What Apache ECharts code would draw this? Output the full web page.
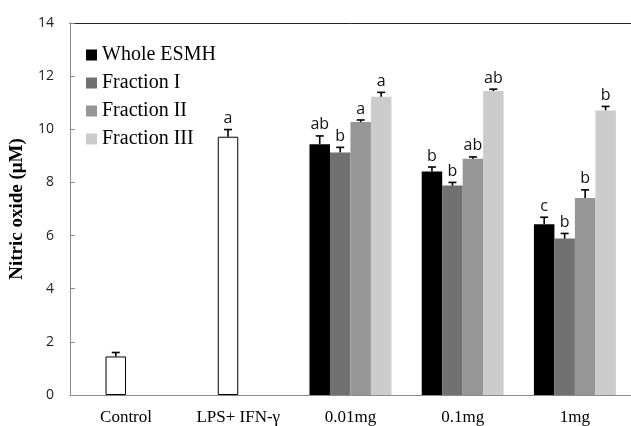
<!DOCTYPE html>
<html><head><meta charset="utf-8">
<script src="https://cdn.jsdelivr.net/npm/echarts@6/dist/echarts.min.js"></script>
<style>html,body{margin:0;padding:0;background:#fff}#c{width:631px;height:426px}</style>
</head><body><div id="c"></div>
<script>
var categories = ['Control', 'LPS+ IFN-\u03b3', '0.01mg', '0.1mg', '1mg'];
var seriesNames = ['Whole ESMH', 'Fraction I', 'Fraction II', 'Fraction III'];
// Control / LPS+IFN-γ (white bars)
var controlValues = [1.45, 9.72];
var controlErr = [0.15, 0.27];
var controlLetters = ['', 'a'];
// Treatment series (0.01mg, 0.1mg, 1mg)
var wholeValues = [9.44, 8.41, 6.43];
var wholeErr = [0.31, 0.17, 0.26];
var wholeLetters = ['ab', 'b', 'c'];
var frac1Values = [9.13, 7.88, 5.89];
var frac1Err = [0.19, 0.12, 0.19];
var frac1Letters = ['b', 'b', 'b'];
var frac2Values = [10.27, 8.89, 7.41];
var frac2Err = [0.08, 0.07, 0.31];
var frac2Letters = ['a', 'ab', 'b'];
var frac3Values = [11.22, 11.44, 10.71];
var frac3Err = [0.17, 0.07, 0.15];
var frac3Letters = ['a', 'ab', 'b'];

var colors = ['#000000', '#717171', '#969696', '#cccccc'];
var vals = [wholeValues, frac1Values, frac2Values, frac3Values];
var errs = [wholeErr, frac1Err, frac2Err, frac3Err];
var lets = [wholeLetters, frac1Letters, frac2Letters, frac3Letters];

var GAP = 0.27;
var series = [];
var errData = [];
var errLetters = [];
for (var s = 0; s < 4; s++) {
  var data = [];
  for (var c = 0; c < 2; c++) {
    if (s === 1) {
      data.push({ value: controlValues[c], itemStyle: { color: '#ffffff', borderColor: '#000000', borderWidth: 1 } });
      errData.push([c, controlValues[c], controlErr[c], s]);
      errLetters.push(controlLetters[c]);
    } else {
      data.push(null);
    }
  }
  for (var k = 0; k < 3; k++) {
    data.push(vals[s][k]);
    errData.push([k + 2, vals[s][k], errs[s][k], s]);
    errLetters.push(lets[s][k]);
  }
  series.push({
    name: seriesNames[s], type: 'bar', data: data,
    itemStyle: { color: colors[s] },
    barGap: '0%', barCategoryGap: (GAP * 100) + '%',
    silent: true, animation: false
  });
}
series.push({
  type: 'custom', silent: true, animation: false, z: 5,
  data: errData,
  renderItem: function (params, api) {
    var ci = api.value(0), v = api.value(1), e = api.value(2), slot = api.value(3);
    var band = api.size([1, 0])[0];
    var bw = band * (1 - GAP) / 4;
    var base = api.coord([ci, v]);
    var top = api.coord([ci, v + e]);
    var x = base[0] + (slot - 1.5) * bw;
    var cap = 4;
    var children = [
      { type: 'line', shape: { x1: x, y1: base[1], x2: x, y2: top[1] }, style: { stroke: '#000', lineWidth: 1.6 } },
      { type: 'line', shape: { x1: x - cap, y1: top[1], x2: x + cap, y2: top[1] }, style: { stroke: '#000', lineWidth: 1.6 } }
    ];
    var t = errLetters[params.dataIndex];
    if (t) {
      children.push({ type: 'text', style: { text: t, x: x, y: top[1] - 3, align: 'center', verticalAlign: 'bottom',
        font: '16px "Open Sans", sans-serif', fill: '#111' } });
    }
    return { type: 'group', children: children };
  }
});

var chart = echarts.init(document.getElementById('c'), null, { renderer: 'canvas' });
chart.setOption({
  animation: false,
  backgroundColor: '#ffffff',
  grid: { left: 67, right: -2, top: 23, bottom: 28, containLabel: false },
  legend: {
    orient: 'vertical', left: 81, top: 40,
    data: seriesNames,
    icon: 'rect', itemWidth: 11, itemHeight: 11, itemGap: 8,
    textStyle: { fontFamily: '"Liberation Serif", serif', fontSize: 20, color: '#000', lineHeight: 20 },
    selectedMode: false
  },
  xAxis: [{
    type: 'category', data: categories,
    axisLine: { lineStyle: { color: '#8a8a8a', width: 1 } },
    axisTick: { inside: true, length: 4, lineStyle: { color: '#8a8a8a' } },
    axisLabel: { fontFamily: '"Liberation Serif", serif', fontSize: 17, color: '#000', margin: 14 }
  }, {
    type: 'category', data: categories, position: 'top',
    axisLine: { lineStyle: { color: '#222', width: 1 } },
    axisTick: { show: false }, axisLabel: { show: false }
  }],
  yAxis: {
    type: 'value', min: 0, max: 14, interval: 2,
    name: 'Nitric oxide (\u03bcM)', nameLocation: 'middle', nameGap: 34,
    nameTextStyle: { fontFamily: '"Liberation Serif", serif', fontSize: 19, fontWeight: 'bold', color: '#000' },
    axisLine: { show: true, lineStyle: { color: '#8a8a8a' } },
    axisTick: { show: true, inside: true, length: 5, lineStyle: { color: '#8a8a8a' } },
    splitLine: { show: false },
    axisLabel: { fontFamily: '"Open Sans", sans-serif', fontSize: 14, color: '#222', margin: 16 }
  },
  series: series
});
</script>
</body></html>
